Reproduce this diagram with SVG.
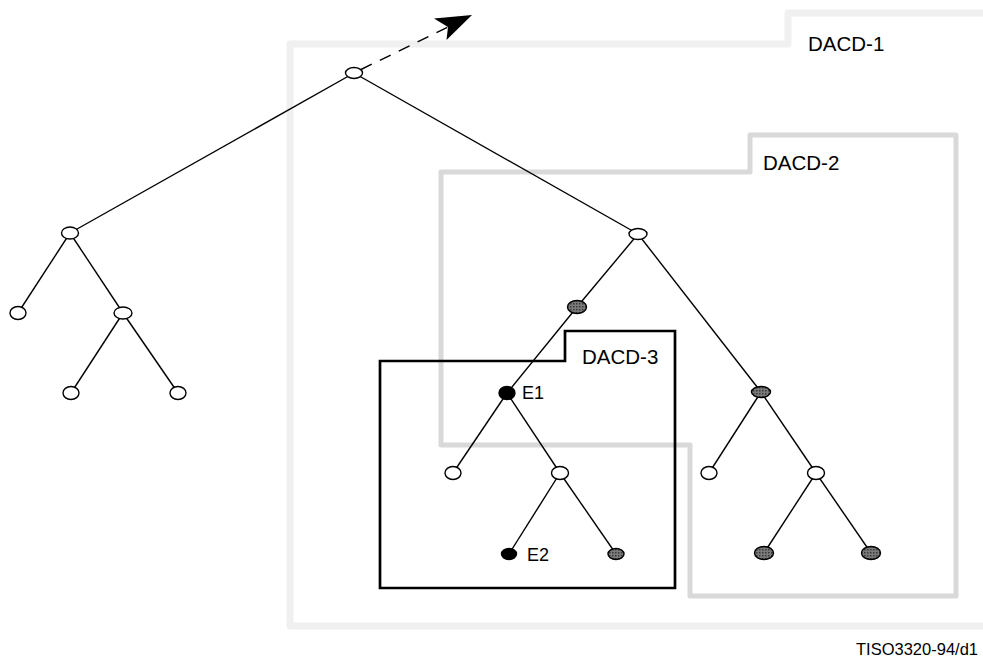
<svg xmlns="http://www.w3.org/2000/svg" width="983" height="657" viewBox="0 0 983 657">
<defs>
<pattern id="stip" width="3" height="3" patternUnits="userSpaceOnUse">
<rect width="3" height="3" fill="#7a7a7a"/>
<rect width="1.5" height="1.5" fill="#3a3a3a"/>
</pattern>
</defs>
<style>
.edge{stroke:#000;stroke-width:1.4;fill:none}
.n{stroke:#000;stroke-width:1.4}
.w{fill:#fff}
.g{fill:url(#stip)}
.b{fill:#000}
.lbl{font-family:"Liberation Sans",Arial,sans-serif;fill:#000}
.big{font-size:20.5px}
.mid{font-size:18px}
.sm{font-size:16.5px}
</style>
<rect width="983" height="657" fill="#fff"/>
<g id="dacd1">
<path d="M 990 13 H 788 V 44 H 290 V 626 H 990" fill="none" stroke="#f0f0f0" stroke-width="7" stroke-linejoin="round"/>
<text class="lbl big" x="808" y="51">DACD-1</text>
</g>
<g id="dacd2">
<path d="M 441 172 H 750 V 135 H 956 V 596 H 690 V 445 H 441 Z" fill="none" stroke="#d9d9d9" stroke-width="5" stroke-linejoin="round"/>
<text class="lbl big" x="763" y="170">DACD-2</text>
</g>
<g id="dacd3">
<path d="M 380 361 H 565 V 331 H 675 V 588 H 380 Z" fill="none" stroke="#000" stroke-width="2.7"/>
<text class="lbl big" x="582" y="364">DACD-3</text>
</g>
<g id="connectors">
<line class="edge" x1="354" y1="73" x2="70" y2="233"/>
<line class="edge" x1="354" y1="73" x2="638" y2="234"/>
<line class="edge" x1="70" y1="233" x2="18" y2="313"/>
<line class="edge" x1="70" y1="233" x2="123" y2="313"/>
<line class="edge" x1="123" y1="313" x2="71" y2="393"/>
<line class="edge" x1="123" y1="313" x2="178" y2="393"/>
<line class="edge" x1="638" y1="234" x2="577" y2="307"/>
<line class="edge" x1="638" y1="234" x2="761" y2="392"/>
<line class="edge" x1="577" y1="307" x2="507" y2="393"/>
<line class="edge" x1="507" y1="393" x2="453" y2="473"/>
<line class="edge" x1="507" y1="393" x2="560" y2="473"/>
<line class="edge" x1="560" y1="473" x2="509" y2="554"/>
<line class="edge" x1="560" y1="473" x2="616" y2="554"/>
<line class="edge" x1="761" y1="392" x2="709" y2="473"/>
<line class="edge" x1="761" y1="392" x2="816" y2="473"/>
<line class="edge" x1="816" y1="473" x2="764" y2="553"/>
<line class="edge" x1="816" y1="473" x2="871" y2="553"/>
<line class="edge" x1="361" y1="69.5" x2="448" y2="27" stroke-dasharray="12 9"/>
<path d="M 472 15 L 434 18.5 L 448 27 L 446.5 40 Z" fill="#000"/>
</g>
<g id="root"><ellipse class="n w" cx="354" cy="73" rx="8.5" ry="5.5"/></g>
<g id="nL"><ellipse class="n w" cx="70" cy="233" rx="8.5" ry="6"/></g>
<g id="nR"><ellipse class="n w" cx="638" cy="234" rx="9" ry="5.5"/></g>
<g id="nLL"><ellipse class="n w" cx="18" cy="313" rx="8" ry="6.5"/></g>
<g id="nLR"><ellipse class="n w" cx="123" cy="313" rx="9" ry="6"/></g>
<g id="nLRL"><ellipse class="n w" cx="71" cy="393" rx="8" ry="6.5"/></g>
<g id="nLRR"><ellipse class="n w" cx="178" cy="393" rx="8" ry="6.5"/></g>
<g id="nRL"><ellipse class="n g" cx="577" cy="307" rx="9.5" ry="6.5"/></g>
<g id="nRR"><ellipse class="n g" cx="761" cy="392" rx="9.5" ry="5.5"/></g>
<g id="nE1"><ellipse class="n b" cx="507" cy="393" rx="8" ry="6.5"/><text class="lbl mid" x="522" y="399">E1</text></g>
<g id="nE1L"><ellipse class="n w" cx="453" cy="473" rx="8" ry="6.5"/></g>
<g id="nE1R"><ellipse class="n w" cx="560" cy="473" rx="8.5" ry="6.5"/></g>
<g id="nE2"><ellipse class="n b" cx="509" cy="554" rx="7.5" ry="5.5"/><text class="lbl mid" x="527" y="561">E2</text></g>
<g id="nE1RR"><ellipse class="n g" cx="616" cy="554" rx="8" ry="5.5"/></g>
<g id="nRRL"><ellipse class="n w" cx="709" cy="473" rx="8" ry="6.5"/></g>
<g id="nRRR"><ellipse class="n w" cx="816" cy="473" rx="8.5" ry="6.5"/></g>
<g id="nRRRL"><ellipse class="n g" cx="764" cy="553" rx="9.5" ry="6.5"/></g>
<g id="nRRRR"><ellipse class="n g" cx="871" cy="553" rx="9.5" ry="6.5"/></g>
<text class="lbl sm" x="856" y="655">TISO3320-94/d1</text>
</svg>
